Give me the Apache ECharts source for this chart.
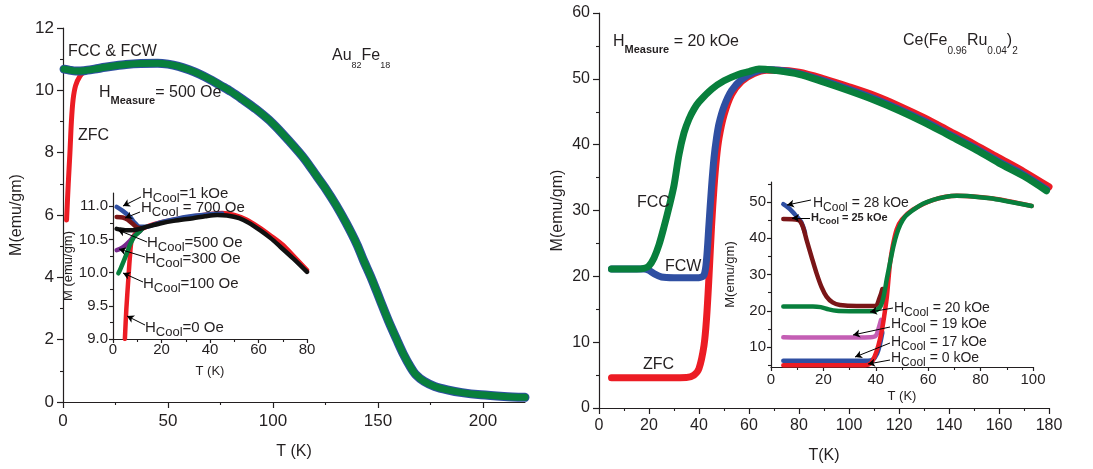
<!DOCTYPE html>
<html>
<head>
<meta charset="utf-8">
<script src="https://cdn.jsdelivr.net/npm/echarts@6/dist/echarts.min.js"></script>
<style>
  html, body { margin: 0; background: #fff; }
  #chart { width: 1093px; height: 469px; }
</style>
</head>
<body>
<div id="chart"></div>
<script>
// ---- Au82Fe18, H_measure = 500 Oe (left panel) ----
const auFC = [[0.5,10.68],[3,10.65],[6,10.62],[10,10.63],[15,10.68],[20,10.74],[25,10.79],[30,10.83],[37,10.86],[45,10.87],
  [50,10.84],[55,10.77],[60,10.66],[65,10.52],[70,10.35],[76,10.12],[80,9.96],[85,9.73],[92,9.39],[100,8.93],[108,8.35],
  [115,7.80],[121,7.23],[125,6.85],[130,6.32],[135,5.72],[140,5.05],[143,4.56],[147,3.95],[151,3.27],[155,2.60],[159,1.99],
  [162,1.55],[165.5,1.12],[168,0.88],[172,0.66],[177,0.50],[183,0.39],[190,0.30],[199,0.23],[210,0.18],[220,0.15]];
const auZFC = [[1.7,5.84],[2.5,7.0],[3.3,8.0],[4,9.0],[4.8,9.7],[6,10.15],[8,10.45],[10,10.58],[13,10.64],[20,10.74],
  [30,10.84],[45,10.89],[55,10.78],[60,10.67]];

// inset: cooling-field dependence
const auCool1k = [[1.5,10.99],[4,10.93],[7,10.84],[9,10.75],[11,10.69],[13,10.69],[20,10.76],[30,10.84],[40,10.88],[45,10.89]];
const auCool700 = [[1.5,10.84],[4,10.83],[6,10.80],[8,10.74],[10,10.68],[12,10.67]];
const auCool500 = [[1.5,10.66],[3,10.65],[5,10.64],[8,10.64],[10,10.65],[12,10.67],[15,10.70],[19.4,10.74],[25,10.78],
  [33,10.82],[38,10.85],[43,10.87],[47,10.86],[52,10.82],[56,10.75],[60.6,10.64],[65,10.52],[69,10.39],[74.4,10.21],[80,10.01]];
const auCool300 = [[1.5,10.34],[3,10.36],[5,10.41],[7,10.48],[9,10.56],[11,10.62],[12,10.66]];
const auCool100 = [[2.2,9.99],[3,10.05],[4.5,10.18],[6,10.32],[7,10.42],[8.9,10.55],[11,10.62],[12,10.66]];
const auCool0 = [[4.9,9.0],[5.5,9.45],[6.3,9.89],[7,10.25],[7.7,10.49],[9,10.58],[11,10.64],[15,10.71],[20,10.76],[30,10.83],
  [40,10.88],[45,10.9],[50,10.87],[55,10.8],[60,10.69],[65,10.56],[70,10.42],[75,10.23],[80,10.04]];

// ---- Ce(Fe0.96Ru0.04)2, H_measure = 20 kOe (right panel) ----
const ceZFC = [[5,4.6],[20,4.6],[35,4.65],[38,5.0],[40,6.0],[42,9.5],[43,13.5],[44,20],[45,27.5],[46,33.5],[47,38],[48,41],
  [50,44.5],[53,47.6],[57,49.6],[62,50.8],[67,51.3],[72,51.3],[80,51.0],[90,50.0],[100,48.8],[110,47.5],[120,45.9],
  [130,44.1],[140,42.1],[150,40.1],[160,38.0],[170,35.9],[180,33.6]];
const ceFCW = [[5,21.1],[10,21.1],[18,21.1],[20,20.9],[22,20.4],[25,19.9],[30,19.8],[40,19.8],[42,20.2],[43,22.5],[44,28],
  [45,33.5],[46,38],[47,41],[48,43.2],[50,45.8],[53,48.2],[57,49.9],[62,51],[67,51.4],[72,51.3],[80,50.8],[90,49.7],
  [100,48.4],[110,47.0],[120,45.4],[130,43.6],[140,41.6],[150,39.6],[160,37.4],[170,35.4],[179,33.2]];
const ceFCC = [[5,21.1],[15,21.1],[18,21.2],[20,21.6],[22,22.8],[24,24.8],[26,27.5],[28,30.5],[30,33.8],[32,38.5],[34,41.8],
  [36,43.9],[38,45.4],[40,46.5],[45,48.4],[50,49.7],[56,50.7],[60,51.1],[64,51.5],[70,51.3],[80,50.7],[90,49.5],[100,48.2],
  [110,46.8],[120,45.2],[130,43.4],[140,41.4],[150,39.4],[160,37.2],[170,35.2],[179,33.0]];

// inset: cooling-field dependence
const ceCool0 = [[4.7,5.0],[15,5.0],[25,5.0],[36,5.0],[38,5.5],[39.5,7.3],[41,10.5],[42.3,14.5],[43.3,19],[44.2,23.7],
  [45.4,32.9],[46.5,38],[48,42.5],[50,45.2],[54,47.8],[62,50.6],[71,51.7],[84,51.0],[99.5,48.9]];
const ceCool17 = [[4.7,6.2],[15,6.2],[25,6.2],[37,6.2],[39,6.6],[40.5,8.2],[41.5,10.5],[42.5,14]];
const ceCool19 = [[4.7,12.7],[15,12.6],[25,12.6],[38,12.7],[40,13.1],[41,15],[42,17.5]];
const ceCool20 = [[4.7,21.2],[16,21.2],[19,21.0],[22,20.4],[25,20.0],[30,19.9],[39,19.9],[41.6,21],[43,24],[44.2,28.8],
  [45.5,33.5],[46.8,38],[48,41.2],[49.2,43.5],[51,45.8],[54.3,47.8],[58,49.5],[61.9,50.6],[66,51.3],[70.8,51.7],[76,51.6],
  [83.6,51.0],[90,50.2],[99.5,48.9]];
const ceCool25 = [[4.7,45.3],[10.4,45.0],[12,43.5],[13.6,39.5],[15.5,34.8],[17.4,30.3],[19.3,26.5],[21.2,23.9],[23.5,22.3],
  [26.3,21.6],[32.7,21.3],[39.7,21.3],[41.6,23.9],[42.5,26]];
const ceCool28 = [[4.7,49.4],[7,48.2],[9.8,46],[11.5,44.5],[13,41.5]];

// tick positions
const auTicksT = [0, 50, 100, 150, 200], auMinorT = [25, 75, 125, 175];
const auTicksM = [0, 2, 4, 6, 8, 10, 12], auMinorM = [1, 3, 5, 7, 9, 11];
const auInsetT = [0, 20, 40, 60, 80], auInsetMinorT = [10, 30, 50, 70];
const auInsetM = [9.0, 9.5, 10.0, 10.5, 11.0], auInsetMinorM = [9.25, 9.75, 10.25, 10.75];
const ceTicksT = [0, 20, 40, 60, 80, 100, 120, 140, 160, 180], ceMinorT = [10, 30, 50, 70, 90, 110, 130, 150, 170];
const ceTicksM = [0, 10, 20, 30, 40, 50, 60], ceMinorM = [5, 15, 25, 35, 45, 55];
const ceInsetT = [0, 20, 40, 60, 80, 100], ceInsetMinorT = [10, 30, 50, 70, 90];
const ceInsetM = [10, 20, 30, 40, 50], ceInsetMinorM = [5, 15, 25, 35, 45, 55];

const FONT = '"Liberation Sans", Arial, sans-serif';
const INK = '#231f20';
const RED = '#ec1c24', BLUE = '#2f4fa2', GREEN = '#087f3c', DKRED = '#7a1517', PURPLE = '#77288c', PINK = '#c45eb4';

const chart = echarts.init(document.getElementById('chart'), null, { renderer: 'canvas' });

const xAxes = [], yAxes = [], minorX = [], minorY = [];

function addAxes(grid, xr, yr) {
  // xr / yr: [min, max, labels, minor, fontSize, margin, name, nameGap, nameSize, fmt, majorLen]
  [[xr, xAxes, minorX, 'bottom'], [yr, yAxes, minorY, 'left']].forEach(function (a) {
    const r = a[0];
    a[1].push({
      type: 'value', gridIndex: grid, min: r[0], max: r[1], position: a[3],
      axisLine: { show: true, onZero: false, lineStyle: { color: INK, width: 1.2 } },
      axisTick: { show: true, length: r[10], customValues: r[2], lineStyle: { color: INK, width: 1.2 } },
      axisLabel: { customValues: r[2], fontSize: r[4], margin: r[5], color: INK, fontFamily: FONT,
        formatter: r[9] || function (v) { return String(v); } },
      splitLine: { show: false },
      name: r[6], nameLocation: 'middle', nameGap: r[7],
      nameTextStyle: { fontSize: r[8], color: INK, fontFamily: FONT }
    });
    a[2].push({
      type: 'value', gridIndex: grid, min: r[0], max: r[1], position: a[3],
      axisLine: { show: false },
      axisTick: { show: true, length: 3, customValues: r[3], lineStyle: { color: INK, width: 1.1 } },
      axisLabel: { show: false }, splitLine: { show: false }
    });
  });
}

const oneDec = function (v) { return v.toFixed(1); };
addAxes(0, [0, 220, auTicksT, auMinorT, 17, 11, 'T (K)', 42, 16, null, 6],
           [0, 12, auTicksM, auMinorM, 17, 9, 'M(emu/gm)', 38, 16, null, 6]);
addAxes(1, [0, 80, auInsetT, auInsetMinorT, 15, 3, 'T (K)', 26, 13, null, 4],
           [9.0, 11.2, auInsetM, auInsetMinorM, 15, 5, 'M (emu/gm)', 30, 13, oneDec, 4]);
addAxes(2, [0, 180, ceTicksT, ceMinorT, 16, 10, 'T(K)', 40, 16, null, 6],
           [0, 60, ceTicksM, ceMinorM, 16, 9, 'M(emu/gm)', 33, 16, null, 6]);
addAxes(3, [0, 100, ceInsetT, ceInsetMinorT, 15, 5, 'T (K)', 23, 13, null, 4],
           [4.5, 55.5, ceInsetM, ceInsetMinorM, 15, 5, 'M(emu/gm)', 34, 13, null, 4]);

function line(data, grid, color, width, extra) {
  return Object.assign({
    type: 'line', xAxisIndex: grid, yAxisIndex: grid, data: data,
    showSymbol: false, smooth: 0.3,
    lineStyle: { color: color, width: width, cap: 'round', join: 'round' },
    itemStyle: { color: color }, silent: true
  }, extra || {});
}

function arrows(list) {
  return {
    silent: true, symbol: ['none', 'arrow'], symbolSize: [6, 7], precision: 4,
    lineStyle: { color: '#000', width: 1, type: 'solid' }, label: { show: false },
    emphasis: { disabled: true },
    data: list.map(function (a) { return [{ x: a[0], y: a[1] }, { x: a[2], y: a[3] }]; })
  };
}

const rich = {
  m: { fontSize: 16, fontFamily: FONT, fill: INK, color: INK },
  ms: { fontSize: 11, fontWeight: 'bold', fontFamily: FONT, fill: INK, color: INK, padding: [15, 0, 0, 0] },
  f: { fontSize: 16, fontFamily: FONT, fill: INK, color: INK },
  fs: { fontSize: 9, fontFamily: FONT, fill: INK, color: INK, padding: [20, 0, 0, 0] },
  fs2: { fontSize: 10, fontFamily: FONT, fill: INK, color: INK, padding: [21, 0, 0, 0] },
  i: { fontSize: 15, fontFamily: FONT, fill: INK, color: INK },
  is: { fontSize: 13, fontFamily: FONT, fill: INK, color: INK, padding: [9, 0, 0, 0] },
  r: { fontSize: 14, fontFamily: FONT, fill: INK, color: INK },
  rs: { fontSize: 12, fontFamily: FONT, fill: INK, color: INK, padding: [9, 0, 0, 0] },
  b: { fontSize: 11, fontWeight: 'bold', fontFamily: FONT, fill: INK, color: INK },
  bs: { fontSize: 9, fontWeight: 'bold', fontFamily: FONT, fill: INK, color: INK, padding: [7, 0, 0, 0] }
};

function txt(x, y, text) {
  return {
    type: 'text', x: x, y: y, silent: true, z: 100,
    style: { text: text, rich: rich, fill: INK, font: '16px ' + FONT,
      textAlign: 'left', align: 'left', textVerticalAlign: 'middle', verticalAlign: 'middle' }
  };
}

const option = {
  animation: false,
  backgroundColor: '#fff',
  grid: [
    { left: 63, top: 28, width: 462, height: 374, outerBoundsMode: 'none' },
    { left: 113, top: 193, width: 194, height: 146, outerBoundsMode: 'none' },
    { left: 599, top: 13, width: 450, height: 395, outerBoundsMode: 'none' },
    { left: 771, top: 182, width: 262, height: 185, outerBoundsMode: 'none' }
  ],
  xAxis: xAxes.concat(minorX),
  yAxis: yAxes.concat(minorY),
  series: [
    // left main
    line(auZFC, 0, RED, 5),
    line(auFC, 0, BLUE, 9),
    line(auFC, 0, GREEN, 7),
    // left inset
    line(auCool0, 1, RED, 4.5),
    line(auCool1k, 1, BLUE, 4.5),
    line(auCool700, 1, DKRED, 4.5),
    line(auCool300, 1, PURPLE, 4.5),
    line(auCool100, 1, GREEN, 4.5),
    line(auCool500, 1, '#111', 4.5, { markLine: arrows([
      [141, 197, 123, 206], [140, 212, 125, 218], [147, 242, 118, 230],
      [145, 257, 119, 249], [143, 282, 123, 273], [145, 325, 127, 316]]) }),
    // right main
    line(ceZFC, 2, RED, 7),
    line(ceFCW, 2, BLUE, 7),
    line(ceFCC, 2, GREEN, 7),
    // right inset
    line(ceCool19, 3, PINK, 4.5),
    line(ceCool17, 3, BLUE, 4.5),
    line(ceCool0, 3, RED, 4.5),
    line(ceCool28, 3, BLUE, 4.5),
    line(ceCool25, 3, DKRED, 4.5),
    line(ceCool20, 3, GREEN, 4.5, { markLine: arrows([
      [811, 200, 787, 205], [810, 218, 792, 218], [893, 308, 870, 312],
      [890, 327, 853, 335], [890, 343, 855, 357], [890, 360, 868, 364]]) })
  ],
  graphic: [
    txt(68, 52, '{m|FCC & FCW}'),
    txt(99, 93, '{m|H}{ms|Measure}{m|= 500 Oe}'),
    txt(78, 136, '{m|ZFC}'),
    txt(332, 56, '{f|Au}{fs|82}{f|Fe}{fs|18}'),
    txt(142, 194, '{i|H}{is|Cool}{i|=1 kOe}'),
    txt(141, 208, '{i|H}{is|Cool}{i| = 700 Oe}'),
    txt(147, 243, '{i|H}{is|Cool}{i|=500 Oe}'),
    txt(145, 259, '{i|H}{is|Cool}{i|=300 Oe}'),
    txt(143, 284, '{i|H}{is|Cool}{i|=100 Oe}'),
    txt(145, 328, '{i|H}{is|Cool}{i|=0 Oe}'),
    txt(613, 42, '{m|H}{ms|Measure}{m| = 20 kOe}'),
    txt(903, 41, '{f|Ce(Fe}{fs2|0.96}{f|Ru}{fs2|0.04}{f|)}{fs2|2}'),
    txt(637, 203, '{m|FCC}'),
    txt(665, 267, '{m|FCW}'),
    txt(643, 365, '{m|ZFC}'),
    txt(813, 203, '{r|H}{rs|Cool}{r| = 28 kOe}'),
    txt(811, 218, '{b|H}{bs|Cool}{b| = 25 kOe}'),
    txt(894, 308, '{r|H}{rs|Cool}{r| = 20 kOe}'),
    txt(891, 324, '{r|H}{rs|Cool}{r| = 19 kOe}'),
    txt(891, 342, '{r|H}{rs|Cool}{r| = 17 kOe}'),
    txt(891, 358, '{r|H}{rs|Cool}{r| = 0 kOe}')
  ]
};

chart.setOption(option);
</script>
</body>
</html>
